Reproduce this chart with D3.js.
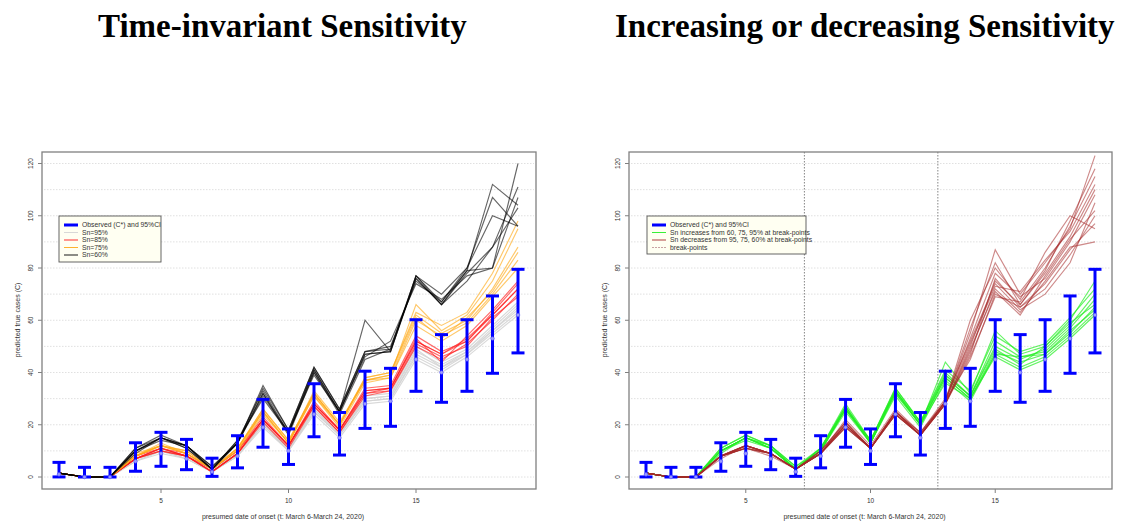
<!DOCTYPE html>
<html>
<head>
<meta charset="utf-8">
<script src="https://cdn.jsdelivr.net/npm/d3@7"></script>
<style>
  body { margin: 0; background: #fff; }
  svg { display: block; }
  .title { font-family: "Liberation Serif", "Times New Roman", serif; font-weight: bold; font-size: 33px; fill: #000; }
  .small { font-family: "Liberation Sans", Arial, sans-serif; fill: #333; }
</style>
</head>
<body>
<svg id="chart" width="1125" height="521"></svg>
<script>
// ── Data ─────────────────────────────────────────────────────────
const days = d3.range(1, 20);
const observed = [1, 0, 0, 6, 9, 7, 2, 8, 19, 10, 24, 15, 28, 29, 45, 40, 45, 53, 62];
const ciLower = [0.03, 0, 0, 2.2, 4.1, 2.8, 0.24, 3.5, 11.4, 4.8, 15.4, 8.4, 18.6, 19.4, 32.8, 28.6, 32.8, 39.7, 47.5];
const ciUpper = [5.6, 3.7, 3.7, 13.1, 17.1, 14.4, 7.2, 15.8, 29.7, 18.4, 35.7, 24.7, 40.5, 41.6, 60.2, 54.5, 60.2, 69.3, 79.5];
const yTicks = [0, 20, 40, 60, 80, 100, 120];
const xTicks = [5, 10, 15];
const breakPoints = [7.35, 12.7];

// time-invariant sensitivity runs
const sn95 = [
  [1.5, 0, 0, 6, 10, 7, 2, 8, 20, 10, 25, 16, 29, 30, 46, 41, 47, 55, 63],
  [1.5, 0, 0, 7, 10, 8, 2, 9, 21, 11, 26, 16, 30, 31, 48, 43, 48, 57, 66],
  [1.5, 0, 0, 6, 9, 7, 2, 8, 19, 10, 24, 15, 28, 29, 45, 40, 46, 54, 62],
  [1.5, 0, 0, 7, 11, 8, 3, 9, 21, 11, 26, 17, 31, 32, 50, 44, 49, 58, 67],
  [1.5, 0, 0, 6, 10, 7, 2, 9, 20, 11, 25, 16, 29, 30, 47, 42, 47, 56, 64],
  [1.5, 0, 0, 7, 10, 8, 2, 8, 20, 10, 25, 16, 30, 31, 49, 42, 48, 56, 65],
];
const sn85 = [
  [1.5, 0, 0, 7, 11, 8, 2, 9, 22, 12, 28, 18, 33, 34, 52, 47, 53, 62, 72],
  [1.5, 0, 0, 7, 10, 8, 2, 9, 22, 12, 27, 17, 32, 33, 50, 45, 51, 60, 70],
  [1.5, 0, 0, 8, 11, 9, 3, 10, 23, 12, 29, 18, 34, 35, 54, 48, 52, 63, 74],
  [1.5, 0, 0, 7, 11, 8, 2, 9, 21, 11, 27, 17, 31, 33, 51, 46, 50, 61, 69],
  [1.5, 0, 0, 7, 10, 8, 3, 10, 22, 12, 28, 18, 33, 34, 53, 44, 54, 64, 75],
  [1.5, 0, 0, 7, 11, 8, 2, 9, 22, 12, 28, 18, 32, 34, 52, 47, 52, 62, 72],
];
const sn75 = [
  [1.5, 0, 0, 8, 12, 9, 3, 10, 25, 13, 31, 20, 37, 38, 60, 54, 59, 70, 83],
  [1.5, 0, 0, 8, 12, 10, 3, 11, 26, 14, 32, 20, 38, 40, 62, 55, 60, 72, 88],
  [1.5, 0, 0, 8, 13, 9, 3, 11, 25, 13, 33, 21, 37, 39, 66, 56, 62, 75, 95],
  [1.5, 0, 0, 8, 12, 9, 3, 10, 24, 13, 31, 19, 36, 38, 58, 52, 58, 69, 80],
  [1.5, 0, 0, 9, 12, 10, 3, 11, 26, 14, 32, 20, 38, 40, 63, 58, 63, 78, 98],
  [1.5, 0, 0, 8, 12, 9, 3, 11, 25, 13, 32, 20, 37, 39, 61, 53, 61, 71, 86],
];
const sn60 = [
  [1.5, 0, 0, 10, 15, 12, 3, 13, 31, 17, 40, 25, 47, 48, 76, 66, 75, 88, 103],
  [1.5, 0, 0, 10, 15, 11, 3, 14, 33, 17, 41, 25, 60, 48, 77, 67, 79, 112, 104],
  [1.5, 0, 0, 11, 16, 12, 4, 13, 34, 18, 42, 26, 48, 50, 75, 67, 80, 107, 96],
  [1.5, 0, 0, 10, 14, 12, 3, 13, 32, 16, 40, 24, 45, 49, 76, 66, 78, 88, 111],
  [1.5, 0, 0, 9, 15, 11, 3, 14, 30, 17, 39, 25, 46, 52, 74, 68, 77, 80, 120],
  [1.5, 0, 0, 10, 15, 12, 3, 13, 32, 17, 41, 25, 47, 48, 77, 70, 80, 100, 96],
  [1.5, 0, 0, 11, 15, 12, 4, 13, 35, 18, 42, 26, 48, 49, 77, 66, 79, 80, 107],
];

// changing sensitivity runs
const snIncreasing = [
  [1.5, 0, 0, 10, 15, 11, 3, 10, 26, 13, 33, 20, 38, 30, 48, 44, 47, 55, 65],
  [1.5, 0, 0, 11, 16, 12, 4, 11, 28, 14, 34, 21, 40, 31, 52, 46, 48, 57, 68],
  [1.5, 0, 0, 10, 14, 11, 3, 10, 25, 13, 31, 19, 37, 29, 47, 42, 46, 54, 63],
  [1.5, 0, 0, 10, 15, 12, 3, 11, 27, 14, 33, 20, 44, 32, 56, 47, 50, 60, 75],
  [1.5, 0, 0, 9, 15, 11, 3, 10, 26, 13, 32, 20, 36, 30, 46, 41, 45, 53, 62],
  [1.5, 0, 0, 10, 15, 11, 3, 11, 27, 13, 33, 20, 39, 31, 50, 45, 49, 58, 70],
  [1.5, 0, 0, 11, 16, 12, 4, 10, 26, 14, 34, 21, 41, 33, 54, 48, 51, 61, 72],
  [1.5, 0, 0, 10, 15, 11, 3, 10, 27, 13, 32, 20, 38, 30, 47, 46, 47, 56, 64],
  [1.5, 0, 0, 10, 15, 12, 3, 11, 26, 14, 33, 21, 39, 31, 49, 43, 50, 59, 66],
];
const snDecreasing = [
  [1.5, 0, 0, 8, 12, 9, 3, 9, 20, 11, 25, 16, 29, 45, 70, 65, 72, 85, 100],
  [1.5, 0, 0, 8, 11, 9, 3, 9, 19, 11, 24, 16, 28, 50, 75, 66, 78, 92, 110],
  [1.5, 0, 0, 8, 12, 9, 3, 10, 21, 11, 25, 17, 29, 55, 87, 70, 82, 95, 123],
  [1.5, 0, 0, 8, 11, 9, 3, 9, 20, 11, 24, 16, 28, 48, 72, 63, 75, 88, 90],
  [1.5, 0, 0, 7, 12, 9, 3, 9, 20, 11, 25, 16, 29, 60, 80, 68, 86, 100, 95],
  [1.5, 0, 0, 8, 12, 9, 3, 9, 22, 12, 26, 17, 30, 52, 74, 64, 70, 82, 105],
  [1.5, 0, 0, 8, 11, 8, 3, 9, 19, 11, 24, 16, 28, 46, 69, 67, 80, 96, 115],
  [1.5, 0, 0, 8, 12, 9, 3, 10, 21, 11, 25, 16, 29, 53, 78, 69, 76, 90, 108],
  [1.5, 0, 0, 8, 12, 9, 3, 9, 21, 11, 25, 16, 29, 51, 73, 71, 83, 94, 112],
  [1.5, 0, 0, 8, 11, 9, 3, 9, 20, 11, 24, 16, 28, 47, 76, 65, 74, 87, 97],
  [1.5, 0, 0, 8, 12, 9, 3, 10, 20, 11, 25, 17, 29, 57, 82, 66, 79, 98, 118],
  [1.5, 0, 0, 8, 11, 9, 3, 9, 19, 11, 24, 16, 28, 49, 71, 62, 77, 91, 102],
];

const BLUE = '#0000ff';
const svg = d3.select('#chart');

// ── Panels ───────────────────────────────────────────────────────
renderPanel({
  title: 'Time-invariant Sensitivity', titleX: 98,
  box: { x0: 42, x1: 536, y0: 152, y1: 489 },
  xRange: [59, 518],
  groups: [
    { runs: sn95, color: '#d4d4d4', opacity: 0.9, label: 'Sn=95%' },
    { runs: sn85, color: '#ff1a1a', opacity: 0.65, label: 'Sn=85%' },
    { runs: sn75, color: '#ffaa1a', opacity: 0.65, label: 'Sn=75%' },
    { runs: sn60, color: '#000000', opacity: 0.6, label: 'Sn=60%' },
  ],
  legend: { x: 59, y: 216, w: 102, h: 46 },
  breaks: null,
});

renderPanel({
  title: 'Increasing or decreasing Sensitivity', titleX: 615,
  box: { x0: 629, x1: 1112, y0: 152, y1: 489 },
  xRange: [646, 1095],
  groups: [
    { runs: snIncreasing, color: '#22ee22', opacity: 0.7, label: 'Sn increases from 60, 75, 95% at break-points' },
    { runs: snDecreasing, color: '#a52a2a', opacity: 0.55, label: 'Sn decreases from 95, 75, 60% at break-points' },
  ],
  legend: { x: 647, y: 216, w: 159, h: 38 },
  breaks: breakPoints,
});

function renderPanel(p) {
  const b = p.box;
  const x = d3.scaleLinear().domain([1, 19]).range(p.xRange);
  const y = d3.scaleLinear().domain([0, 120]).range([477, 163.5]);
  const g = svg.append('g');

  g.append('text').attr('class', 'title')
    .attr('x', p.titleX).attr('y', 37).text(p.title);

  // dotted grid every 10
  g.selectAll('.grid').data(d3.range(0, 121, 10)).enter()
    .append('line')
    .attr('x1', b.x0 + 2).attr('x2', b.x1 - 2)
    .attr('y1', d => y(d)).attr('y2', d => y(d))
    .attr('stroke', '#d8d8d8').attr('stroke-width', 0.8)
    .attr('stroke-dasharray', '1.5,1.5');

  // break-points
  if (p.breaks) {
    g.selectAll('.brk').data(p.breaks).enter()
      .append('line')
      .attr('x1', d => x(d)).attr('x2', d => x(d))
      .attr('y1', b.y0).attr('y2', b.y1)
      .attr('stroke', '#777').attr('stroke-width', 0.9)
      .attr('stroke-dasharray', '1.5,1.5');
  }

  // simulated runs
  const line = d3.line().x((d, i) => x(days[i])).y(d => y(d));
  p.groups.forEach(grp => {
    g.append('g').selectAll('path').data(grp.runs).enter()
      .append('path')
      .attr('d', line)
      .attr('fill', 'none')
      .attr('stroke', grp.color)
      .attr('stroke-opacity', grp.opacity)
      .attr('stroke-width', 1.15);
  });

  // observed with 95% CI
  const bars = g.append('g');
  days.forEach((d, i) => {
    const cx = x(d);
    bars.append('line')
      .attr('x1', cx).attr('x2', cx)
      .attr('y1', y(ciLower[i])).attr('y2', y(ciUpper[i]))
      .attr('stroke', BLUE).attr('stroke-width', 3);
    [ciLower[i], ciUpper[i]].forEach(v => {
      bars.append('line')
        .attr('x1', cx - 6.5).attr('x2', cx + 6.5)
        .attr('y1', y(v)).attr('y2', y(v))
        .attr('stroke', BLUE).attr('stroke-width', 3);
    });
    bars.append('circle')
      .attr('cx', cx).attr('cy', y(observed[i])).attr('r', 1.8)
      .attr('fill', '#9a9aff').attr('stroke', '#5050ff').attr('stroke-width', 0.6);
  });

  // plot box
  g.append('rect')
    .attr('x', b.x0).attr('y', b.y0)
    .attr('width', b.x1 - b.x0).attr('height', b.y1 - b.y0)
    .attr('fill', 'none').attr('stroke', '#808080').attr('stroke-width', 1.3);

  // y axis
  yTicks.forEach(t => {
    g.append('line')
      .attr('x1', b.x0 - 4).attr('x2', b.x0)
      .attr('y1', y(t)).attr('y2', y(t))
      .attr('stroke', '#808080');
    g.append('text').attr('class', 'small')
      .attr('transform', `translate(${b.x0 - 9},${y(t)}) rotate(-90)`)
      .attr('text-anchor', 'middle')
      .attr('font-size', '6.5px')
      .text(t);
  });
  g.append('text').attr('class', 'small')
    .attr('transform', `translate(${b.x0 - 22},320) rotate(-90)`)
    .attr('text-anchor', 'middle')
    .attr('font-size', '7px')
    .text('predicted true cases (C)');

  // x axis
  xTicks.forEach(t => {
    g.append('line')
      .attr('x1', x(t)).attr('x2', x(t))
      .attr('y1', b.y1).attr('y2', b.y1 + 4)
      .attr('stroke', '#808080');
    g.append('text').attr('class', 'small')
      .attr('x', x(t)).attr('y', 503)
      .attr('text-anchor', 'middle')
      .attr('font-size', '6.5px')
      .text(t);
  });
  g.append('text').attr('class', 'small')
    .attr('x', (b.x0 + b.x1) / 2 - 6).attr('y', 519)
    .attr('text-anchor', 'middle')
    .attr('font-size', '7px')
    .text('presumed date of onset (t: March 6-March 24, 2020)');

  renderLegend(g, p);
}

// ── Legend ───────────────────────────────────────────────────────
function renderLegend(g, p) {
  const L = p.legend;
  const lg = g.append('g').attr('transform', `translate(${L.x},${L.y})`);
  lg.append('rect')
    .attr('width', L.w).attr('height', L.h)
    .attr('fill', '#fffff2').attr('stroke', '#555').attr('stroke-width', 0.9);

  const items = [{ label: 'Observed (C*) and 95%CI', color: BLUE, width: 3, opacity: 1 }]
    .concat(p.groups.map(grp => ({ label: grp.label, color: grp.color, width: 1, opacity: 0.9 })));
  if (p.breaks) items.push({ label: 'break-points', color: '#c9a3a3', width: 1, opacity: 1, dash: '2,1' });

  items.forEach((it, i) => {
    const yy = 9 + i * 7.5;
    lg.append('line')
      .attr('x1', 5).attr('x2', 19)
      .attr('y1', yy).attr('y2', yy)
      .attr('stroke', it.color).attr('stroke-width', it.width)
      .attr('stroke-opacity', it.opacity)
      .attr('stroke-dasharray', it.dash || null);
    lg.append('text').attr('class', 'small')
      .attr('x', 23).attr('y', yy + 2.3)
      .attr('font-size', '6.8px')
      .text(it.label);
  });
}
</script>
</body>
</html>
